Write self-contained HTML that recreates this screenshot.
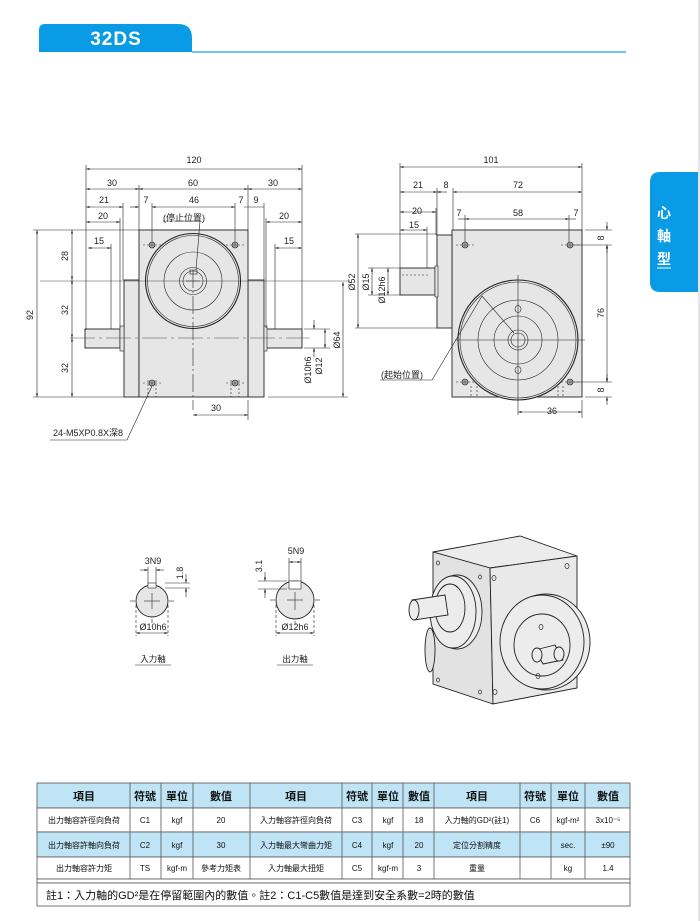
<!DOCTYPE html>
<html><head><meta charset="utf-8"><style>
html,body{margin:0;padding:0;background:#fff;}
svg{display:block;font-family:"Liberation Sans","Noto Sans CJK TC",sans-serif;}
</style></head><body>
<svg width="700" height="921" viewBox="0 0 700 921" xmlns="http://www.w3.org/2000/svg">
<defs>
<marker id="a" viewBox="0 0 10 10" refX="10" refY="5" markerWidth="6" markerHeight="6" orient="auto-start-reverse"><path d="M0,2 L10,5 L0,8 z" fill="#222"/></marker>
</defs>
<!-- header -->
<path d="M39,52 L39,30 Q39,24 45,24 L178,24 Q192,24 192,38 L192,52 Z" fill="#0a9be6"/>
<line x1="192" y1="52" x2="626" y2="52" stroke="#3fb4ee" stroke-width="1.5"/>
<text x="116" y="45" fill="#fff" font-size="19" font-weight="bold" text-anchor="middle" letter-spacing="1">32DS</text>
<!-- side tab -->
<path d="M698,172 L660,172 Q650,172 650,182 L650,282 Q650,292 660,292 L698,292 Z" fill="#0a9be6"/>
<line x1="699" y1="0" x2="699" y2="921" stroke="#ccc"/>
<g fill="#fff" font-size="14" font-weight="bold" text-anchor="middle"><text x="664" y="218">心</text><text x="664" y="241">軸</text><text x="664" y="264">型</text></g>
<line x1="657" y1="268" x2="671" y2="268" stroke="#fff"/>

<g stroke="#222" stroke-width="0.6" fill="none">
<!-- FRONT VIEW -->
<rect x="124" y="280" width="15" height="117" fill="#e6e6e6" stroke="#222" stroke-width="0.9"/>
<rect x="248" y="280" width="16" height="117" fill="#e6e6e6" stroke="#222" stroke-width="0.9"/>
<rect x="139" y="230" width="109" height="167" fill="#e6e6e6" stroke="#222" stroke-width="0.9"/>
<rect x="85" y="329" width="35" height="19" fill="#e6e6e6" stroke-width="0.9"/>
<rect x="120" y="326" width="4" height="25" fill="#e6e6e6"/>
<rect x="266" y="329" width="36" height="19" fill="#e6e6e6" stroke-width="0.9"/>
<rect x="264" y="326" width="3" height="25" fill="#e6e6e6"/>
<circle cx="193" cy="281" r="47.5" fill="#e6e6e6" stroke-width="1.1"/>
<circle cx="193" cy="281" r="45.5"/>
<circle cx="193" cy="281" r="29"/>
<circle cx="193" cy="281" r="13.5"/>
<circle cx="193" cy="281" r="10"/>
<rect x="190" y="270" width="7" height="4"/>
<line x1="193" y1="270" x2="193" y2="410" stroke-dasharray="18 3 2 3"/>
<line x1="186" y1="281" x2="200" y2="281"/>
<line x1="40" y1="281" x2="350" y2="281" stroke-width="0.4"/>
<line x1="70" y1="338" x2="310" y2="338" stroke-width="0.4" stroke-dasharray="25 4 3 4"/>
<g fill="#999"><circle cx="152" cy="245" r="3"/><circle cx="235" cy="245" r="3"/><circle cx="152" cy="383" r="3"/><circle cx="235" cy="383" r="3"/></g>
<g stroke-dasharray="2 2"><line x1="143" y1="245" x2="161" y2="245"/><line x1="226" y1="245" x2="244" y2="245"/><line x1="143" y1="383" x2="161" y2="383"/><line x1="226" y1="383" x2="244" y2="383"/><line x1="148" y1="380" x2="148" y2="397"/><line x1="156" y1="380" x2="156" y2="397"/><line x1="231" y1="380" x2="231" y2="397"/><line x1="239" y1="380" x2="239" y2="397"/></g>
<!-- ext lines -->
<line x1="86" y1="165" x2="86" y2="330"/><line x1="302" y1="165" x2="302" y2="330"/>
<line x1="139" y1="185" x2="139" y2="230"/><line x1="248" y1="185" x2="248" y2="230"/>
<line x1="123" y1="203" x2="123" y2="280"/><line x1="120" y1="218" x2="120" y2="328"/>
<line x1="111" y1="244" x2="111" y2="329"/><line x1="152" y1="203" x2="152" y2="242"/>
<line x1="235" y1="203" x2="235" y2="242"/><line x1="264" y1="203" x2="264" y2="280"/>
<line x1="266" y1="218" x2="266" y2="328"/><line x1="275" y1="244" x2="275" y2="329"/>
<line x1="33" y1="230" x2="139" y2="230"/><line x1="33" y1="397" x2="124" y2="397"/>
<line x1="268" y1="397" x2="348" y2="397"/>
<line x1="304" y1="329" x2="330" y2="329"/><line x1="304" y1="348" x2="330" y2="348"/>
<line x1="248" y1="400" x2="248" y2="420"/>
<!-- dims -->
<g marker-start="url(#a)" marker-end="url(#a)">
<line x1="86" y1="169" x2="302" y2="169"/>
<line x1="86" y1="189" x2="139" y2="189"/><line x1="139" y1="189" x2="248" y2="189"/><line x1="248" y1="189" x2="302" y2="189"/>
<line x1="86" y1="207" x2="123" y2="207"/><line x1="152" y1="207" x2="235" y2="207"/>
<line x1="86" y1="222" x2="120" y2="222"/><line x1="266" y1="222" x2="302" y2="222"/>
<line x1="88" y1="248" x2="111" y2="248"/><line x1="275" y1="248" x2="302" y2="248"/>
<line x1="37" y1="230" x2="37" y2="397"/>
<line x1="72" y1="230" x2="72" y2="280"/><line x1="72" y1="280" x2="72" y2="338"/><line x1="72" y1="338" x2="72" y2="397"/>
<line x1="343" y1="282" x2="343" y2="397"/>
<line x1="325" y1="329" x2="325" y2="348"/>
<line x1="193" y1="415" x2="248" y2="415"/>
</g>
<line x1="314" y1="320" x2="314" y2="329" marker-end="url(#a)"/><line x1="314" y1="357" x2="314" y2="348" marker-end="url(#a)"/>
<line x1="130" y1="207" x2="139" y2="207" marker-end="url(#a)"/><line x1="244" y1="207" x2="264" y2="207"/>
<!-- leaders -->
<polyline points="163,221 200,221 196,270"/>
<polyline points="50,440 127,440 152,386"/>

<!-- SIDE VIEW -->
<rect x="452" y="230" width="130" height="167" fill="#e6e6e6" stroke-width="0.9"/>
<rect x="437" y="235" width="15" height="93" fill="#e6e6e6" stroke-width="0.9"/>
<rect x="400" y="268" width="35" height="27" fill="#e6e6e6" stroke-width="0.9"/>
<rect x="435" y="266" width="3" height="31" fill="#e6e6e6"/>
<line x1="402" y1="275" x2="430" y2="275" stroke-dasharray="2 2"/>
<circle cx="518" cy="340" r="60" fill="#e6e6e6" stroke-width="1.1"/>
<circle cx="518" cy="340" r="58"/>
<circle cx="518" cy="340" r="40"/>
<circle cx="518" cy="340" r="24"/>
<circle cx="518" cy="340" r="10"/>
<circle cx="518" cy="340" r="7"/>
<ellipse cx="518" cy="309" rx="3" ry="3.5"/><ellipse cx="518" cy="370" rx="3" ry="3.5"/>
<line x1="518" y1="275" x2="518" y2="415"/>
<line x1="455" y1="340" x2="585" y2="340"/>
<g fill="#999"><circle cx="465" cy="245" r="3"/><circle cx="570" cy="245" r="3"/><circle cx="465" cy="382" r="3"/><circle cx="570" cy="382" r="3"/></g>
<g stroke-dasharray="2 2"><line x1="456" y1="245" x2="474" y2="245"/><line x1="561" y1="245" x2="579" y2="245"/><line x1="456" y1="382" x2="474" y2="382"/><line x1="561" y1="382" x2="579" y2="382"/><line x1="471" y1="386" x2="471" y2="397"/><line x1="477" y1="386" x2="477" y2="397"/><line x1="558" y1="386" x2="558" y2="397"/><line x1="563" y1="386" x2="563" y2="397"/></g>
<line x1="400" y1="163" x2="400" y2="268"/><line x1="582" y1="163" x2="582" y2="230"/>
<line x1="437" y1="188" x2="437" y2="235"/><line x1="453" y1="188" x2="453" y2="230"/>
<line x1="436" y1="208" x2="436" y2="235"/><line x1="427" y1="227" x2="427" y2="268"/>
<line x1="465" y1="215" x2="465" y2="242"/><line x1="569" y1="215" x2="569" y2="242"/>
<line x1="355" y1="234" x2="437" y2="234"/><line x1="355" y1="328" x2="437" y2="328"/>
<line x1="368" y1="268" x2="400" y2="268"/><line x1="368" y1="295" x2="400" y2="295"/>
<line x1="585" y1="230" x2="612" y2="230"/><line x1="573" y1="245" x2="612" y2="245"/>
<line x1="573" y1="382" x2="612" y2="382"/><line x1="585" y1="397" x2="612" y2="397"/>
<line x1="582" y1="400" x2="582" y2="418"/>
<g marker-start="url(#a)" marker-end="url(#a)">
<line x1="400" y1="167" x2="582" y2="167"/>
<line x1="400" y1="192" x2="437" y2="192"/><line x1="453" y1="192" x2="582" y2="192"/>
<line x1="400" y1="212" x2="436" y2="212"/>
<line x1="465" y1="219" x2="569" y2="219"/>
<line x1="400" y1="230" x2="427" y2="230"/>
<line x1="358" y1="234" x2="358" y2="328"/>
<line x1="372" y1="268" x2="372" y2="295"/>
<line x1="388" y1="268" x2="388" y2="295"/>
<line x1="607" y1="245" x2="607" y2="382"/>
<line x1="518" y1="412" x2="582" y2="412"/>
</g>
<line x1="447" y1="192" x2="437" y2="192" marker-end="url(#a)"/>
<line x1="607" y1="222" x2="607" y2="230" marker-end="url(#a)"/><line x1="607" y1="253" x2="607" y2="245" marker-end="url(#a)"/>
<line x1="607" y1="374" x2="607" y2="382" marker-end="url(#a)"/><line x1="607" y1="405" x2="607" y2="397" marker-end="url(#a)"/>
<line x1="458" y1="219" x2="465" y2="219"/><line x1="569" y1="219" x2="576" y2="219"/>
<polyline points="380,380 432,380 482,296 514,333"/>

<!-- SHAFT SECTIONS -->
<circle cx="152" cy="601" r="16" fill="#e6e6e6" stroke-width="0.9"/>
<rect x="148" y="583" width="8" height="5" fill="#fff"/>
<line x1="144" y1="601" x2="160" y2="601"/><line x1="152" y1="593" x2="152" y2="609"/>
<line x1="130" y1="601" x2="135" y2="601"/><line x1="169" y1="601" x2="174" y2="601"/>
<line x1="152" y1="619" x2="152" y2="623"/>
<g stroke-dasharray="3 2"><line x1="136" y1="605" x2="136" y2="636"/><line x1="168" y1="605" x2="168" y2="636"/></g>
<line x1="136" y1="633" x2="168" y2="633" marker-start="url(#a)" marker-end="url(#a)"/>
<line x1="148" y1="567" x2="148" y2="583"/><line x1="156" y1="567" x2="156" y2="583"/>
<line x1="140" y1="570" x2="148" y2="570" marker-end="url(#a)"/><line x1="164" y1="570" x2="156" y2="570" marker-end="url(#a)"/>
<line x1="165" y1="583" x2="190" y2="583"/><line x1="165" y1="588" x2="190" y2="588"/>
<line x1="186" y1="574" x2="186" y2="583" marker-end="url(#a)"/><line x1="186" y1="597" x2="186" y2="588" marker-end="url(#a)"/>
<line x1="135" y1="665" x2="171" y2="665"/>

<circle cx="295" cy="600" r="19" fill="#e6e6e6" stroke-width="0.9"/>
<rect x="289" y="581" width="12" height="8" fill="#fff"/>
<line x1="287" y1="600" x2="303" y2="600"/><line x1="295" y1="592" x2="295" y2="610"/>
<line x1="270" y1="600" x2="275" y2="600"/><line x1="315" y1="600" x2="320" y2="600"/>
<line x1="295" y1="621" x2="295" y2="625"/>
<g stroke-dasharray="3 2"><line x1="276" y1="605" x2="276" y2="636"/><line x1="314" y1="605" x2="314" y2="636"/></g>
<line x1="276" y1="633" x2="314" y2="633" marker-start="url(#a)" marker-end="url(#a)"/>
<line x1="289" y1="558" x2="289" y2="581"/><line x1="301" y1="558" x2="301" y2="581"/>
<line x1="289" y1="562" x2="301" y2="562" marker-start="url(#a)" marker-end="url(#a)"/>
<line x1="258" y1="581" x2="287" y2="581"/><line x1="258" y1="589" x2="287" y2="589"/>
<line x1="265" y1="572" x2="265" y2="581" marker-end="url(#a)"/><line x1="265" y1="598" x2="265" y2="589" marker-end="url(#a)"/>
<line x1="277" y1="665" x2="313" y2="665"/>

<!-- 3D -->
<g stroke-width="0.9" fill="#ececec">
<polygon points="433,552 520,536 577,556 490,568"/>
<polygon points="433,552 490,568 493,704 433,684" fill="#e2e2e2"/>
<polygon points="490,568 577,556 577,688 493,704" fill="#e9e9e9"/>
<ellipse cx="430" cy="650" rx="5" ry="22" fill="#e2e2e2"/>
<ellipse cx="457" cy="612" rx="25" ry="37"/>
<ellipse cx="453" cy="612" rx="23" ry="36"/>
<ellipse cx="450" cy="608" rx="15" ry="24"/>
<path d="M412,600 L445,595 L448,615 L414,620 Z"/>
<ellipse cx="414" cy="610" rx="5" ry="10"/>
<ellipse cx="546" cy="642" rx="44" ry="48"/>
<ellipse cx="542" cy="642" rx="42" ry="47"/>
<ellipse cx="542" cy="645" rx="28" ry="31"/>
<path d="M535,650 L555,645 L563,660 L543,664 Z"/>
<ellipse cx="537" cy="655" rx="5" ry="7"/>
<ellipse cx="559" cy="654" rx="5" ry="7"/>
</g>
<g stroke-width="0.7"><ellipse cx="438" cy="563" rx="1.5" ry="2"/><ellipse cx="480" cy="577" rx="1.5" ry="2"/><ellipse cx="494" cy="578" rx="2" ry="2.5"/><ellipse cx="567" cy="566" rx="2" ry="2.5"/><ellipse cx="438" cy="680" rx="1.5" ry="2"/><ellipse cx="480" cy="692" rx="1.5" ry="2"/><ellipse cx="495" cy="692" rx="2" ry="2.5"/><ellipse cx="541" cy="627" rx="2" ry="2.5"/><ellipse cx="538" cy="676" rx="2" ry="2.5"/></g>
</g>

<!-- labels -->
<g font-size="9" fill="#222" text-anchor="middle">
<text x="194" y="163">120</text>
<text x="112" y="186">30</text><text x="193" y="186">60</text><text x="273" y="186">30</text>
<text x="104" y="203">21</text><text x="146" y="203">7</text><text x="194" y="203">46</text><text x="241" y="203">7</text><text x="256" y="203">9</text>
<text x="103" y="219">20</text><text x="284" y="219">20</text>
<text x="99" y="244">15</text><text x="289" y="244">15</text>
<text x="184" y="221">(停止位置)</text>
<text x="216" y="411">30</text>
<text x="88" y="436">24-M5XP0.8X深8</text>
<text transform="translate(33,315) rotate(-90)">92</text>
<text transform="translate(68,256) rotate(-90)">28</text>
<text transform="translate(68,310) rotate(-90)">32</text>
<text transform="translate(68,368) rotate(-90)">32</text>
<text transform="translate(340,340) rotate(-90)">Ø64</text>
<text transform="translate(322,366) rotate(-90)">Ø12</text>
<text transform="translate(311,370) rotate(-90)">Ø10h6</text>
<text x="491" y="163">101</text>
<text x="418" y="188">21</text><text x="446" y="188">8</text><text x="518" y="188">72</text>
<text x="417" y="214">20</text>
<text x="459" y="216">7</text><text x="518" y="216">58</text><text x="576" y="216">7</text>
<text x="414" y="228">15</text>
<text transform="translate(355,282) rotate(-90)">Ø52</text>
<text transform="translate(369,282) rotate(-90)">Ø15</text>
<text transform="translate(385,290) rotate(-90)">Ø12h6</text>
<text transform="translate(604,238) rotate(-90)">8</text>
<text transform="translate(604,313) rotate(-90)">76</text>
<text transform="translate(604,390) rotate(-90)">8</text>
<text x="552" y="414">36</text>
<text x="402" y="378">(起始位置)</text>
<text x="153" y="564">3N9</text>
<text transform="translate(183,573) rotate(-90)">1.8</text>
<text x="153" y="630">Ø10h6</text>
<text x="153" y="662" font-size="8.5">入力軸</text>
<text x="296" y="554">5N9</text>
<text transform="translate(262,566) rotate(-90)">3.1</text>
<text x="295" y="630">Ø12h6</text>
<text x="295" y="662" font-size="8.5">出力軸</text>
</g>

<!-- TABLE -->
<g stroke="#555" stroke-width="0.8">
<rect x="37" y="783" width="593" height="25" fill="#bfe4f6"/>
<rect x="37" y="808" width="593" height="24" fill="#fff"/>
<rect x="37" y="832" width="593" height="25" fill="#bfe4f6"/>
<rect x="37" y="857" width="593" height="22" fill="#fff"/>
<rect x="37" y="879" width="593" height="4" fill="#fff"/>
<rect x="37" y="883" width="593" height="23" fill="#fff"/>
<g>
<line x1="130" y1="783" x2="130" y2="879"/><line x1="161" y1="783" x2="161" y2="879"/><line x1="193" y1="783" x2="193" y2="879"/><line x1="250" y1="783" x2="250" y2="879"/><line x1="342" y1="783" x2="342" y2="879"/><line x1="372" y1="783" x2="372" y2="879"/><line x1="403" y1="783" x2="403" y2="879"/><line x1="434" y1="783" x2="434" y2="879"/><line x1="520" y1="783" x2="520" y2="879"/><line x1="551" y1="783" x2="551" y2="879"/><line x1="585" y1="783" x2="585" y2="879"/>
</g>
</g>
<g font-size="8" fill="#111" text-anchor="middle">
<g font-size="11" font-weight="bold"><text x="84" y="800">項目</text><text x="145" y="800">符號</text><text x="177" y="800">單位</text><text x="221" y="800">數值</text><text x="296" y="800">項目</text><text x="357" y="800">符號</text><text x="388" y="800">單位</text><text x="419" y="800">數值</text><text x="477" y="800">項目</text><text x="535" y="800">符號</text><text x="568" y="800">單位</text><text x="608" y="800">數值</text></g>
<text x="84" y="823">出力軸容許徑向負荷</text><text x="145" y="823">C1</text><text x="177" y="823">kgf</text><text x="221" y="823">20</text><text x="296" y="823">入力軸容許徑向負荷</text><text x="357" y="823">C3</text><text x="388" y="823">kgf</text><text x="419" y="823">18</text><text x="477" y="823">入力軸的GD²(註1)</text><text x="535" y="823">C6</text><text x="568" y="823">kgf-m²</text><text x="608" y="823">3x10⁻⁵</text>
<text x="84" y="848">出力軸容許軸向負荷</text><text x="145" y="848">C2</text><text x="177" y="848">kgf</text><text x="221" y="848">30</text><text x="296" y="848">入力軸最大彎曲力矩</text><text x="357" y="848">C4</text><text x="388" y="848">kgf</text><text x="419" y="848">20</text><text x="477" y="848">定位分割精度</text><text x="568" y="848">sec.</text><text x="608" y="848">±90</text>
<text x="84" y="871">出力軸容許力矩</text><text x="145" y="871">TS</text><text x="177" y="871">kgf-m</text><text x="221" y="871">參考力矩表</text><text x="296" y="871">入力軸最大扭矩</text><text x="357" y="871">C5</text><text x="388" y="871">kgf-m</text><text x="419" y="871">3</text><text x="477" y="871">重量</text><text x="568" y="871">kg</text><text x="608" y="871">1.4</text>
<text x="46" y="899" font-size="11" text-anchor="start">註1：入力軸的GD²是在停留範圍內的數值。註2：C1-C5數值是達到安全系數=2時的數值</text>
</g>
</svg>
</body></html>
